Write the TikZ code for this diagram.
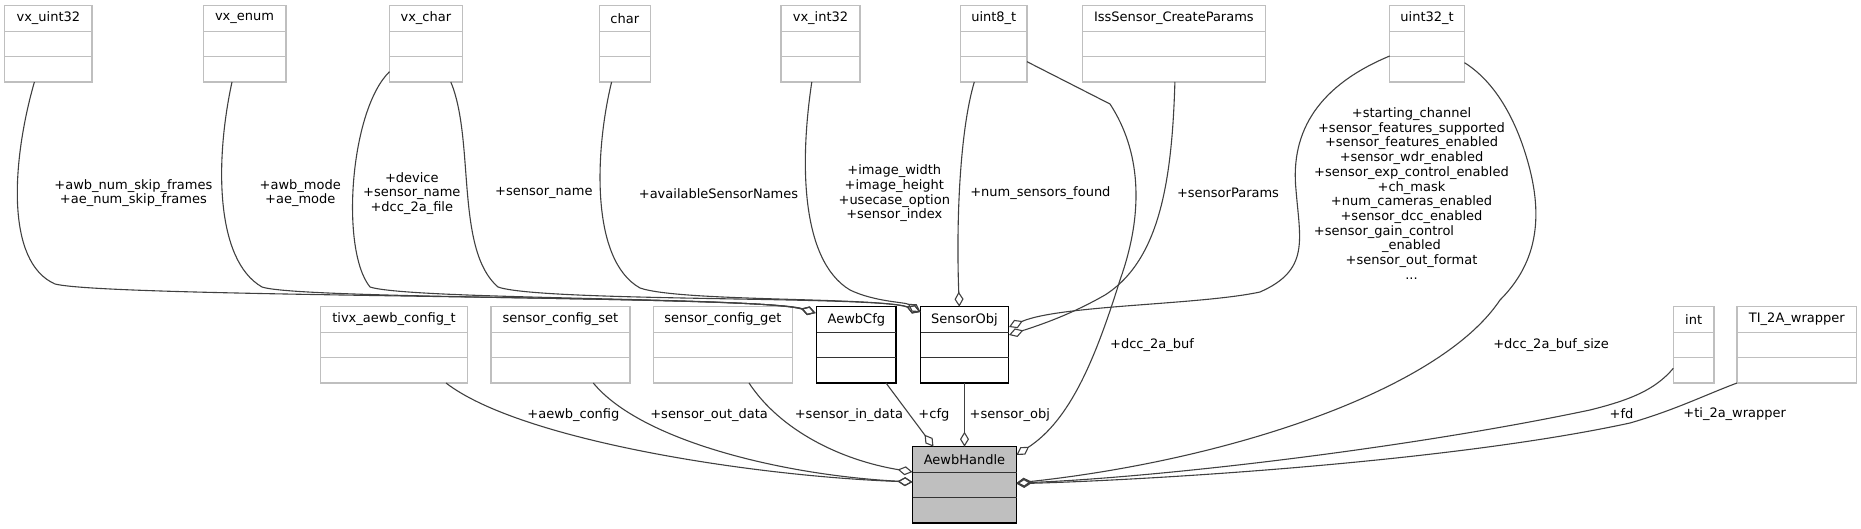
\documentclass[tikz,border=0pt]{standalone}
\usepackage{fontspec}
\setmainfont{DejaVu Sans}
\usetikzlibrary{arrows.meta,calc}
\definecolor{boxgray}{HTML}{BFBFBF}
\definecolor{edgegray}{HTML}{404040}
\tikzset{
  graybox/.style={draw=boxgray, line width=1.3pt, rectangle, inner sep=0pt, outer sep=0pt},
  grayboxdiv/.style={draw=boxgray, line width=1.3pt},
  blackbox/.style={draw=black, line width=1.3pt, rectangle, inner sep=0pt, outer sep=0pt},
  blackboxdiv/.style={draw=black!80, line width=1.3pt},
  handlebox/.style={draw=black, fill=boxgray, line width=1.3pt, rectangle, inner sep=0pt, outer sep=0pt},
  handleboxdiv/.style={draw=black!80, line width=1.3pt},
  ttl/.style={inner sep=0pt, font=\fontsize{13}{14.7}\selectfont},
  elab/.style={inner sep=0pt, align=center, font=\fontsize{13}{14.7}\selectfont},
  conn/.style={draw=edgegray, line width=1.1pt, -{Diamond[open,length=15pt,width=9pt]}},
}
\newcommand{\umlclass}[6]{%
  \node[#6, anchor=north west, minimum width={#3-#2}, minimum height=76.3] (#1) at (#2,#4) {};
  \draw[#6div] ($(#1.north west)+(0,25.6)$) -- ($(#1.north east)+(0,25.6)$);
  \draw[#6div] ($(#1.north west)+(0,50.9)$) -- ($(#1.north east)+(0,50.9)$);
  \node[ttl] (#1t) at ($(#1.north)+(0,12.8)$) {#5};
}
\begin{document}
\begin{tikzpicture}[x=1pt,y=-1pt]
\useasboundingbox (0,0) rectangle (1861,529);
% top row
\umlclass{vxuint32}{4.7}{92.1}{5.7}{vx\_uint32}{graybox}
\umlclass{vxenum}{203.2}{285.9}{5.7}{vx\_enum}{graybox}
\umlclass{vxchar}{389.5}{462.2}{5.7}{vx\_char}{graybox}
\umlclass{charT}{599.4}{650.2}{5.7}{char}{graybox}
\umlclass{vxint32}{781.1}{859.9}{5.7}{vx\_int32}{graybox}
\umlclass{uinteight}{960.6}{1027}{5.7}{uint8\_t}{graybox}
\umlclass{iss}{1082.5}{1265.3}{5.7}{IssSensor\_CreateParams}{graybox}
\umlclass{uintthirtytwo}{1389.7}{1464.5}{5.7}{uint32\_t}{graybox}
% second row
\umlclass{tivx}{320.5}{467.4}{306.7}{tivx\_aewb\_config\_t}{graybox}
\umlclass{scset}{491}{629.9}{306.7}{sensor\_config\_set}{graybox}
\umlclass{scget}{653.5}{792.4}{306.7}{sensor\_config\_get}{graybox}
\umlclass{aewbcfg}{816.7}{896}{306.7}{AewbCfg}{blackbox}
\umlclass{sensorobj}{920.5}{1008.5}{306.7}{SensorObj}{blackbox}
\umlclass{intT}{1673.3}{1714}{306.7}{int}{graybox}
\umlclass{titwoa}{1737}{1856.6}{306.7}{TI\_2A\_wrapper}{graybox}
% handle
\umlclass{handle}{912.5}{1016.5}{446.7}{AewbHandle}{handlebox}

% edges to AewbCfg
\draw[conn] ($(vxuint32.south west)+(29.7,0)$) .. controls (12,160) and (5,262) .. (55,284)
  .. controls (110,298) and (760,295) .. ($(aewbcfg.north west)+(-1.2,6.3)$);
\draw[conn] ($(vxenum.south west)+(28.8,0)$) .. controls (215,160) and (215,260) .. (262,287)
  .. controls (300,300) and (760,296) .. ($(aewbcfg.north west)+(-1.2,6.3)$);
\draw[conn] ($(vxchar.south west)+(0,-10.3)$) .. controls (350,110) and (340,250) .. (370,287)
  .. controls (410,300) and (760,297) .. ($(aewbcfg.north west)+(-1.2,6.3)$);
% edges to SensorObj
\draw[conn] ($(vxchar.south west)+(61.3,0)$) .. controls (475,140) and (455,250) .. (498,287)
  .. controls (540,302) and (880,296) .. ($(sensorobj.north west)+(0,5.3)$);
\draw[conn] ($(charT.south west)+(12.2,0)$) .. controls (595,150) and (590,260) .. (640,288)
  .. controls (680,302) and (880,297) .. ($(sensorobj.north west)+(0,5.3)$);
\draw[conn] ($(vxint32.south west)+(30.7,0)$) .. controls (800,160) and (800,260) .. (850,290)
  .. controls (875,302) and (905,302) .. ($(sensorobj.north west)+(0,5.3)$);
\draw[conn] ($(uinteight.south west)+(13.7,0)$) .. controls (960,130) and (956,220) .. ($(sensorobj.north)+(-5.2,0)$);
\draw[conn] ($(iss.south west)+(92.4,0)$) .. controls (1172,180) and (1160,260) .. (1105,295)
  .. controls (1070,315) and (1040,325) .. ($(sensorobj.north east)+(0.5,28.3)$);
\draw[conn] ($(uintthirtytwo.south west)+(0,-26)$) .. controls (1320,85) and (1290,130) .. (1296,190)
  .. controls (1300,240) and (1310,270) .. (1260,292)
  .. controls (1200,305) and (1060,305) .. ($(sensorobj.north east)+(0.5,20.3)$);
% edges to AewbHandle
\draw[conn] ($(uinteight.south east)+(0,-20.3)$) -- (1110,104) .. controls (1140,150) and (1145,210) .. (1120,280)
  .. controls (1095,360) and (1070,420) .. ($(handle.north east)+(0,8.3)$);
\draw[conn] ($(uintthirtytwo.south east)+(0,-19.3)$) .. controls (1500,85) and (1520,130) .. (1530,170)
  .. controls (1545,230) and (1530,270) .. (1500,300)
  .. controls (1440,390) and (1230,460) .. ($(handle.north east)+(0,36.3)$);
\draw[conn] ($(intT.south west)+(0,-14.7)$) .. controls (1655,390) and (1630,400) .. (1590,410)
  .. controls (1400,450) and (1150,478) .. ($(handle.north east)+(0,36.3)$);
\draw[conn] (titwoa.south west) .. controls (1705,395) and (1675,410) .. (1630,423)
  .. controls (1450,462) and (1150,480) .. ($(handle.north east)+(0,37)$);
\draw[conn] ($(tivx.south west)+(125.5,0)$) .. controls (520,440) and (750,476) .. ($(handle.north west)+(0,35.3)$);
\draw[conn] ($(scset.south west)+(102.3,0)$) .. controls (640,440) and (780,475) .. ($(handle.north west)+(0,35.3)$);
\draw[conn] ($(scget.south west)+(95.5,0)$) .. controls (780,430) and (840,460) .. ($(handle.north west)+(0,25.3)$);
\draw[conn] ($(aewbcfg.south west)+(69.3,0)$) -- ($(handle.north west)+(21,0)$);
\draw[conn] (sensorobj.south) -- (handle.north);

% labels
\node[elab] (l1) at (133.4,193) {+awb\_num\_skip\_frames\\+ae\_num\_skip\_frames};
\node[elab] (l2) at (300.3,193) {+awb\_mode\\+ae\_mode};
\node[elab] (l3) at (411.8,193.3) {+device\\+sensor\_name\\+dcc\_2a\_file};
\node[elab] (l4) at (543.9,193.3) {+sensor\_name};
\node[elab] (l5) at (718.5,193.3) {+availableSensorNames};
\node[elab] (l6) at (894.3,193.5) {+image\_width\\+image\_height\\+usecase\_option\\+sensor\_index};
\node[elab] (l7) at (1040.4,193.3) {+num\_sensors\_found};
\node[elab] (l8) at (1228,193.3) {+sensorParams};
\node[elab] (l9) at (1411.5,193.5) {+starting\_channel\\+sensor\_features\_supported\\+sensor\_features\_enabled\\+sensor\_wdr\_enabled\\+sensor\_exp\_control\_enabled\\+ch\_mask\\+num\_cameras\_enabled\\+sensor\_dcc\_enabled\\+sensor\_gain\_control\rule{55pt}{0pt}\\\_enabled\\+sensor\_out\_format\\...};
\node[elab] (l10) at (1152,345) {+dcc\_2a\_buf};
\node[elab] (l11) at (1551,345) {+dcc\_2a\_buf\_size};
\node[elab] (l12) at (573.4,415) {+aewb\_config};
\node[elab] (l13) at (709.1,415) {+sensor\_out\_data};
\node[elab] (l14) at (848.9,415) {+sensor\_in\_data};
\node[elab] (l15) at (933.9,415) {+cfg};
\node[elab] (l16) at (1009.8,415) {+sensor\_obj};
\node[elab] (l17) at (1621.5,414) {+fd};
\node[elab] (l18) at (1734.7,414) {+ti\_2a\_wrapper};
\end{tikzpicture}
\end{document}
